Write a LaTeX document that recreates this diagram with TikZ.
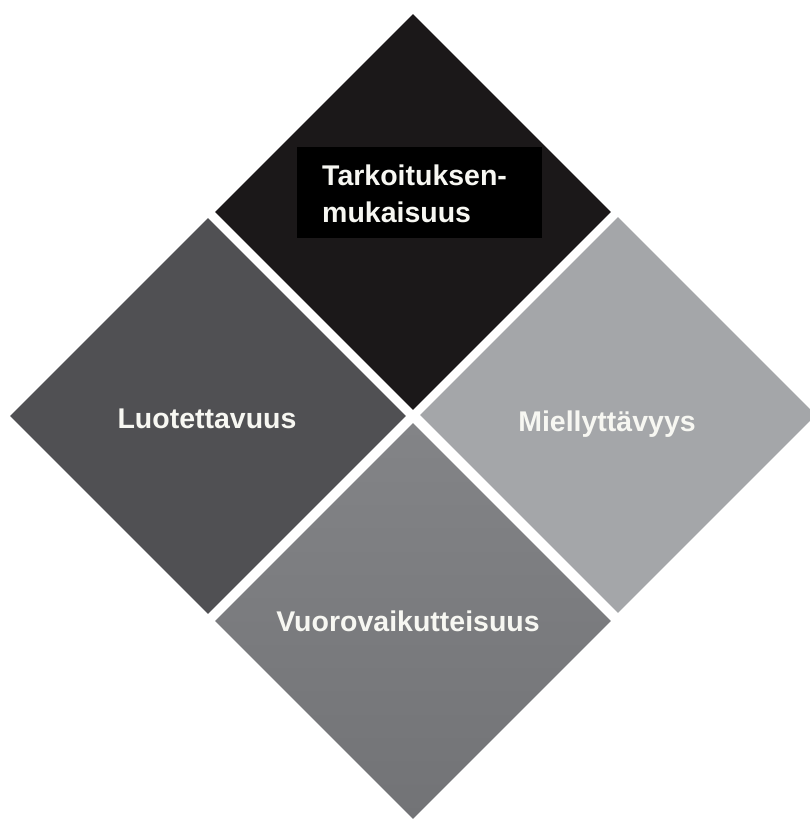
\documentclass[tikz,border=0pt]{standalone}
\usepackage{fontspec}
\setmainfont{Liberation Sans}
\usetikzlibrary{shapes.geometric}
\definecolor{tileblack}{HTML}{1B1819}
\definecolor{tiledark}{HTML}{505053}
\definecolor{tilemidtop}{HTML}{838487}
\definecolor{tilemidbot}{HTML}{727376}
\definecolor{tilelight}{HTML}{A4A6A9}
\definecolor{labelwhite}{HTML}{F7F7F2}
\tikzset{
  tile/.style={diamond, aspect=1, inner sep=0pt, draw=none,
    minimum width=396pt, minimum height=396pt},
  label/.style={font=\bfseries\fontsize{28.5}{37}\selectfont,
    text=labelwhite, inner sep=0pt},
}
\begin{document}
\begin{tikzpicture}[x=1pt,y=-1pt]
  \useasboundingbox (0,0) rectangle (810,820);
  \fill[white] (0,0) rectangle (810,820);
  % four tiles set corner to corner
  \node[tile, fill=tileblack] (tarkoitus) at (413,212) {};
  \node[tile, fill=tiledark] (luotettavuus) at (208,416) {};
  \node[tile, fill=tilelight] (miellyttavyys) at (618,415) {};
  \node[tile, top color=tilemidtop, bottom color=tilemidbot] (vuorovaikutus) at (413,621) {};
  % title box on the top tile
  \node[fill=black, minimum width=245pt, minimum height=91pt, inner sep=0pt,
        anchor=north west] (titlebox) at (297,147) {};
  \node[label, anchor=base west] (t1) at (322,185) {Tarkoituksen-};
  \node[label, anchor=base west] (t2) at (322,222) {mukaisuus};
  % labels on the other tiles
  \node[label, anchor=base] (l1) at (207,428) {Luotettavuus};
  \node[label, anchor=base] (l2) at (607,431) {Miellyttävyys};
  \node[label, anchor=base] (l3) at (408,631) {Vuorovaikutteisuus};
\end{tikzpicture}
\end{document}
